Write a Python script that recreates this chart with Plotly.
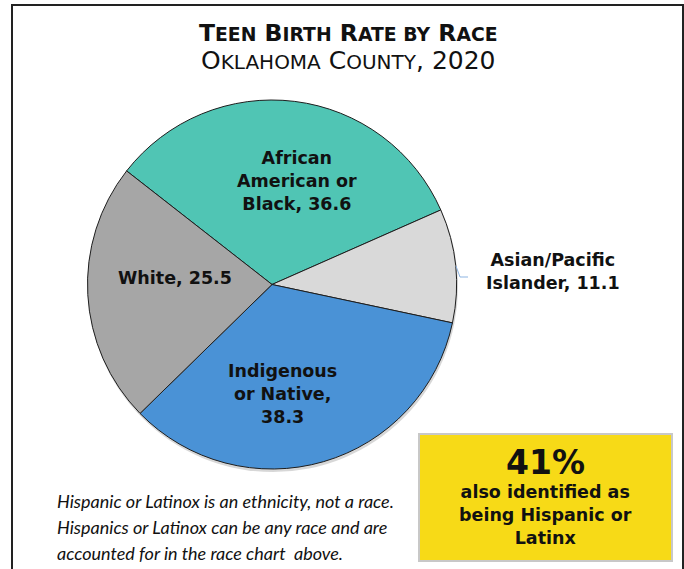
import plotly.graph_objects as go

# ---- data ----
races = ["African American or Black", "Asian/Pacific Islander", "Indigenous or Native", "White"]
rates = [36.6, 11.1, 38.3, 25.5]
label_lines = ["African<br>American or<br>Black, ", "Asian/Pacific<br>Islander, ", "Indigenous<br>or Native,<br>", "White, "]
slice_colors = ["#50C5B4", "#D9D9D9", "#4A92D6", "#A6A6A6"]
hispanic_share = "41%"
hispanic_text = "also identified as<br>being Hispanic or<br>Latinx"
footnote_lines = ["Hispanic or Latinox is an ethnicity, not a race.",
                  "Hispanics or Latinox can be any race and are",
                  "accounted for in the race chart  above."]

W, H = 684, 569

def px(x):
    return x / W

def py(y):
    return 1 - y / H

fig = go.Figure()
fig.add_trace(go.Pie(
    labels=races,
    values=rates,
    sort=False,
    direction="clockwise",
    rotation=-52,
    marker=dict(colors=slice_colors, line=dict(color="#1E1E1E", width=1)),
    textinfo="none",
    hoverinfo="label+value",
    showlegend=False,
    domain=dict(x=[px(87), px(457)], y=[py(469), py(100)]),
))

label_font = dict(family="DejaVu Sans, sans-serif", size=17.5, color="#111111")
label_pos = [(297, 181), (553, 271), (282, 394), (175, 278)]
for i, (x, y) in enumerate(label_pos):
    fig.add_annotation(x=px(x), y=py(y), xref="paper", yref="paper",
                       text=f"<b>{label_lines[i]}{rates[i]}</b>", showarrow=False, align="center",
                       xanchor="center", yanchor="middle", font=label_font)

sc = "font-size:18.8px"
title1 = ("<b>T<span style='%s'>EEN</span> B<span style='%s'>IRTH</span> "
          "R<span style='%s'>ATE BY</span> R<span style='%s'>ACE</span></b>") % (sc, sc, sc, sc)
sc2 = "font-size:20px"
title2 = ("O<span style='%s'>KLAHOMA</span> C<span style='%s'>OUNTY</span>, 2020") % (sc2, sc2)
fig.add_annotation(x=px(348), y=py(33), xref="paper", yref="paper", text=title1,
                   showarrow=False, xanchor="center", yanchor="middle",
                   font=dict(family="DejaVu Sans, sans-serif", size=23.5, color="#111111"))
fig.add_annotation(x=px(348), y=py(60), xref="paper", yref="paper", text=title2,
                   showarrow=False, xanchor="center", yanchor="middle",
                   font=dict(family="DejaVu Sans, sans-serif", size=25, color="#111111"))

# yellow box
fig.add_shape(type="rect", xref="paper", yref="paper",
              x0=px(419), x1=px(672), y0=py(561), y1=py(434),
              fillcolor="#F7DA17", line=dict(color="#C8C8C8", width=2), layer="below")
fig.add_annotation(x=px(545), y=py(462), xref="paper", yref="paper",
                   text=f"<b>{hispanic_share}</b>", showarrow=False,
                   xanchor="center", yanchor="middle",
                   font=dict(family="DejaVu Sans, sans-serif", size=33, color="#111111"))
fig.add_annotation(x=px(545), y=py(515), xref="paper", yref="paper",
                   text=f"<b>{hispanic_text}</b>", showarrow=False, align="center",
                   xanchor="center", yanchor="middle",
                   font=dict(family="DejaVu Sans, sans-serif", size=17.5, color="#111111"))

# footnote
for k, line in enumerate(footnote_lines):
    fig.add_annotation(x=px(55), y=py(501 + 26 * k), xref="paper", yref="paper",
                       text=f"<i>{line}</i>", showarrow=False, align="left",
                       xanchor="left", yanchor="middle",
                       font=dict(family="Lato, sans-serif", size=18, color="#111111"))

# outer frame
fig.add_shape(type="rect", xref="paper", yref="paper",
              x0=px(12), x1=px(683), y0=-0.05, y1=py(5),
              line=dict(color="#222222", width=2), fillcolor="rgba(0,0,0,0)")

# pie shadow
fig.add_shape(type="circle", xref="paper", yref="paper",
              x0=px(88), x1=px(458), y0=py(472), y1=py(102),
              fillcolor="rgba(140,140,140,0.35)", line=dict(width=0), layer="below")

# small leader line for Asian label
fig.add_shape(type="path", xref="paper", yref="paper",
              path=f"M {px(456)} {py(266)} L {px(460)} {py(277)} L {px(468)} {py(277)}",
              line=dict(color="#8DB4E2", width=1))

fig.update_layout(width=W, height=H, margin=dict(l=0, r=0, t=0, b=0),
                  paper_bgcolor="white", plot_bgcolor="white")

fig.write_html("out.html", config={"displayModeBar": False},
               post_script="document.body.style.margin='0';")
